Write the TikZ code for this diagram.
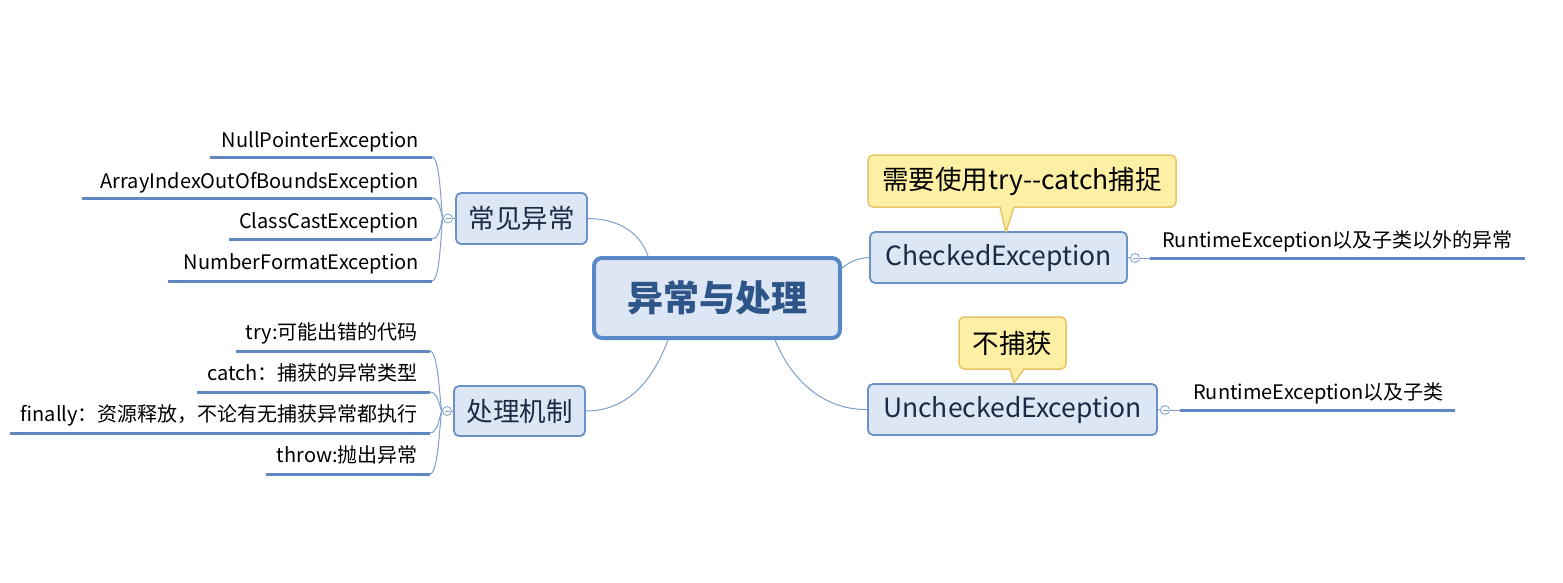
\documentclass[tikz,border=0pt]{standalone}
\usepackage{fontspec}
\usetikzlibrary{calc}
\setmainfont{Noto Sans CJK SC}
\definecolor{topicfill}{HTML}{DCE6F4}
\definecolor{topicline}{HTML}{6A92C6}
\definecolor{rootline}{HTML}{5A88C6}
\definecolor{connc}{HTML}{7FA0CC}
\definecolor{leafc}{HTML}{5E88BF}
\definecolor{callfill}{HTML}{FDF0A4}
\definecolor{callline}{HTML}{E9C467}
\definecolor{roottext}{HTML}{2E5588}
\definecolor{topictext}{HTML}{1E2A44}
\tikzset{
  topic/.style={draw=topicline, line width=1.8pt, fill=topicfill, rounded corners=5pt, inner sep=0pt, text=topictext, font=\fontsize{26.5}{30}\selectfont},
  rootbox/.style={draw=rootline, line width=4pt, fill=topicfill, rounded corners=8pt, inner sep=0pt, text=roottext, font=\fontsize{36}{40}\selectfont\bfseries},
  leaf/.style={inner sep=0pt, font=\fontsize{20}{23}\selectfont, text=black},
  uline/.style={draw=leafc, line width=3pt},
  conn/.style={draw=connc, line width=1pt},
  callout/.style={draw=callline, fill=callfill, line width=1.5pt, rounded corners=5pt, inner sep=0pt, text=black, font=\fontsize{26.5}{30}\selectfont},
  dotc/.style={circle, draw=connc, fill=white, line width=0.8pt, minimum size=9pt, inner sep=0pt}
}
\begin{document}
\begin{tikzpicture}[x=1pt,y=-1pt]
\useasboundingbox[fill=white] (0,0) rectangle (1563,583);

% root and topics
\node[rootbox, minimum width=246, minimum height=80] (root) at (717,298) {异常与处理};
\node[topic, minimum width=131, minimum height=51] (c1) at (521.5,218.5) {常见异常};
\node[topic, minimum width=131, minimum height=50] (c2) at (519.5,411) {处理机制};
\node[topic, minimum width=257, minimum height=51] (c3) at (998.5,257.5) {CheckedException};
\node[topic, minimum width=289, minimum height=51] (c4) at (1012.5,409.5) {UncheckedException};

% root connectors
\coordinate (r1) at (648,256);
\coordinate (r2) at (668,340);
\coordinate (r3) at (842,268);
\coordinate (r4) at (775,340);
\draw[conn] (c1.east) .. controls (625,219) and (642,238) .. (r1);
\draw[conn] (r2) .. controls (650,388) and (622,411) .. (c2.east);
\draw[conn] (r3) .. controls (852,260) and (860,258) .. (c3.west);
\draw[conn] (r4) .. controls (795,388) and (830,410) .. (c4.west);

% callouts
\node[callout, minimum width=308, minimum height=52] (k1) at (1022,181) {需要使用try-{}-catch捕捉};
\coordinate (k1t) at (1006,232);
\fill[callfill] (1000,205) -- (k1t) -- (1014,205) -- cycle;
\draw[callline, line width=1.5pt, line join=round] (1000,207) -- (k1t) -- (1014,207);
\node[callout, minimum width=107, minimum height=52] (k2) at (1012.5,343) {不捕获};
\coordinate (k2t) at (1014,383);
\fill[callfill] (1010,367) -- (k2t) -- (1024,367) -- cycle;
\draw[callline, line width=1.5pt, line join=round] (1010,369) -- (k2t) -- (1024,369);

% collapse dots
\node[dotc] (d1) at (448,218.5) {};
\node[dotc] (d2) at (447,411) {};
\node[dotc] (d3) at (1135,258) {};
\node[dotc] (d4) at (1165,410) {};
\foreach \d in {d1,d2,d3,d4}{\draw[connc, line width=0.8pt] ([xshift=-2.5pt]\d.center) -- ([xshift=2.5pt]\d.center);}
\draw[conn] (c1.west) -- (d1.east);
\draw[conn] (c2.west) -- (d2.east);
\draw[conn] (c3.east) -- (d3.west);
\draw[conn] (c4.east) -- (d4.west);

% left group 1
\node[leaf, anchor=base east] (a1) at (419,147) {NullPointerException};
\node[leaf, anchor=base east] (a2) at (419,188) {ArrayIndexOutOfBoundsException};
\node[leaf, anchor=base east] (a3) at (419,228) {ClassCastException};
\node[leaf, anchor=base east] (a4) at (419,269) {NumberFormatException};
\coordinate (a1s) at (210,157); \coordinate (a1e) at (432,157);
\coordinate (a2s) at (82,198);  \coordinate (a2e) at (432,198);
\coordinate (a3s) at (229,239); \coordinate (a3e) at (432,239);
\coordinate (a4s) at (168,281); \coordinate (a4e) at (432,281);
\foreach \p in {a1,a2,a3,a4}{
  \draw[uline] (\p s) -- (\p e);
  \draw[conn] (\p e) .. controls ($(\p e)+(9,0)$) and (441,218.5) .. (d1.west);
}

% left group 2
\node[leaf, anchor=base east] (b1) at (418,339) {try:可能出错的代码};
\node[leaf, anchor=base east] (b2) at (418,380) {catch：捕获的异常类型};
\node[leaf, anchor=base east] (b3) at (418,421) {finally：资源释放，不论有无捕获异常都执行};
\node[leaf, anchor=base east] (b4) at (418,462) {throw:抛出异常};
\coordinate (b1s) at (236,351); \coordinate (b1e) at (430,351);
\coordinate (b2s) at (197,392); \coordinate (b2e) at (430,392);
\coordinate (b3s) at (10,433);  \coordinate (b3e) at (430,433);
\coordinate (b4s) at (266,474); \coordinate (b4e) at (430,474);
\foreach \p in {b1,b2,b3,b4}{
  \draw[uline] (\p s) -- (\p e);
  \draw[conn] (\p e) .. controls ($(\p e)+(9,0)$) and (440,411) .. (d2.west);
}

% right leaves
\node[leaf, anchor=base west] (e1) at (1162,247) {RuntimeException以及子类以外的异常};
\coordinate (e1s) at (1150,258); \coordinate (e1e) at (1525,258);
\draw[uline] (e1s) -- (e1e);
\draw[conn] (d3.east) -- (e1s);
\node[leaf, anchor=base west] (f1) at (1193,399) {RuntimeException以及子类};
\coordinate (f1s) at (1180,410); \coordinate (f1e) at (1455,410);
\draw[uline] (f1s) -- (f1e);
\draw[conn] (d4.east) -- (f1s);
\end{tikzpicture}
\end{document}
